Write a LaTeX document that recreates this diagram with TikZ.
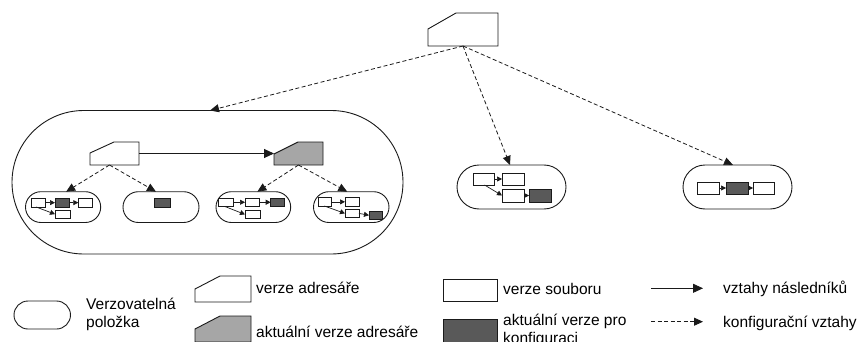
\documentclass[tikz,border=0pt]{standalone}
\usepackage{fontspec}
\setmainfont{Liberation Sans}
\usetikzlibrary{arrows.meta,shapes.misc,calc}

\definecolor{dirgrey}{HTML}{A6A6A6}
\definecolor{curdark}{HTML}{595959}
\definecolor{edge}{HTML}{1A1A1A}

\tikzset{
  file/.style={draw=edge, fill=white, rectangle, inner sep=0pt, outer sep=0pt, line width=0.8pt},
  curfile/.style={file, fill=curdark},
  item/.style={draw=edge, rounded rectangle, inner sep=0pt, outer sep=0pt, line width=0.9pt},
  dirnode/.style={rectangle, inner sep=0pt, outer sep=0pt},
  dirline/.style={draw=edge, line width=0.9pt, line join=miter},
  cfg/.style={draw=edge, dash pattern=on 4pt off 2.5pt, line width=0.8pt, -{Triangle[length=9pt,width=8pt]}},
  succ/.style={draw=edge, line width=0.9pt, -{Triangle[length=10pt,width=9pt]}},
  mini/.style={draw=edge, line width=0.7pt, -{Triangle[length=5pt,width=5pt]}},
  lbl/.style={font=\fontsize{15.5}{18}\selectfont, inner sep=0pt, anchor=base west, align=left},
}

% node given by its corners (x1,y1) -- (x2,y2), y grows downwards
\newcommand\boxat[6]{%
  \node[#2, minimum width={(#5)-(#3)}, minimum height={(#6)-(#4)}]
    (#1) at ({((#3)+(#5))/2},{((#4)+(#6))/2}) {};}
% directory version: box with a chamfered top-left corner
% #7 = x where the top edge starts, #8 = y where the left edge starts
\newcommand\dirat[8]{%
  \boxat{#1}{dirnode}{#3}{#4}{#5}{#6}
  \draw[dirline, fill=#2] (#1.south west)
    -- ($(#1.north west)+(0,{(#8)-(#4)})$)
    -- ($(#1.north west)+({(#7)-(#3)},0)$)
    -- (#1.north east) -- (#1.south east) -- cycle;}

\begin{document}
\begin{tikzpicture}[x=1pt, y=-1pt]
\useasboundingbox (0,0) rectangle (861,342);

% root directory version
\dirat{T}{white}{428}{13}{498}{46}{456}{29}

% versionable item holding the directory and its configurations
\boxat{B}{item}{12}{110.5}{403}{254}
\dirat{D1}{white}{90}{142}{139}{165}{114}{153}
\dirat{D2}{dirgrey}{274}{142}{323}{165}{298}{154}
\draw[succ] (D1.east) -- (D2.west);

% nested items
\boxat{E1}{item}{25.5}{191.7}{100.7}{222.5}
\boxat{E2}{item}{123}{191.7}{199}{222.5}
\boxat{E3}{item}{216}{191.7}{290.7}{222.5}
\boxat{E4}{item}{313.5}{191.7}{389}{222.5}

\boxat{E1a}{file}{31}{198.3}{45.7}{207}
\boxat{E1b}{curfile}{55}{198.3}{69.3}{207}
\boxat{E1c}{file}{78.3}{198.3}{92.7}{207}
\boxat{E1d}{file}{55}{210}{70}{218.3}
\draw[mini] (E1a.east) -- (E1b.west);
\draw[mini] (E1b.east) -- (E1c.west);
\draw[mini] ($(E1a.south west)!0.35!(E1a.south east)$) -- (E1d.west);

\boxat{E2a}{curfile}{154.3}{198.3}{170.3}{207.7}

\boxat{E3a}{file}{218.3}{198}{233}{206.5}
\boxat{E3b}{file}{245}{198}{259.3}{206.5}
\boxat{E3c}{curfile}{270.7}{198}{284.3}{206.5}
\boxat{E3d}{file}{245}{210.3}{260}{218.5}
\draw[mini] (E3a.east) -- (E3b.west);
\draw[mini] (E3b.east) -- (E3c.west);
\draw[mini] ($(E3a.south west)!0.45!(E3a.south east)$) -- (E3d.west);

\boxat{E4a}{file}{318.3}{197.7}{331.7}{206}
\boxat{E4b}{file}{345}{197.7}{359}{206}
\boxat{E4c}{file}{345}{209.3}{359}{217.5}
\boxat{E4d}{curfile}{369}{211}{382.3}{219.5}
\draw[mini] (E4a.east) -- (E4b.west);
\draw[mini] ($(E4a.south west)!0.45!(E4a.south east)$) -- (E4c.west);
\draw[mini] (E4c.east) -- (E4d.west);

\draw[cfg] ([xshift=-5pt]D1.south) -- ([xshift=3pt]E1.north);
\draw[cfg] ([xshift=-5pt]D1.south) -- ([xshift=-5pt]E2.north);
\draw[cfg] (D2.south) -- ([xshift=4pt]E3.north);
\draw[cfg] (D2.south) -- ([xshift=-4pt]E4.north);

% middle item
\boxat{M}{item}{457}{165}{566}{209}
\boxat{Ma}{file}{473}{173}{494}{185}
\boxat{Mb}{file}{502}{173}{524}{185}
\boxat{Mc}{file}{502}{189}{524}{202}
\boxat{Md}{curfile}{529}{189}{551}{202}
\draw[mini] (Ma.east) -- (Mb.west);
\draw[mini] ($(Ma.south west)!0.55!(Ma.south east)$) -- (Mc.west);
\draw[mini] (Mc.east) -- (Md.west);

% right item
\boxat{R}{item}{683}{165}{792}{209}
\boxat{Ra}{file}{697}{182}{719}{194}
\boxat{Rb}{curfile}{726}{182}{748}{194}
\boxat{Rc}{file}{753}{182}{774}{194}
\draw[mini] (Ra.east) -- (Rb.west);
\draw[mini] (Rb.east) -- (Rc.west);

% configuration relations of the root
\draw[cfg] (T.south) -- ([xshift=2.5pt]B.north);
\draw[cfg] (T.south) -- ([xshift=-1.5pt]M.north);
\draw[cfg] (T.south) -- ([xshift=-4.5pt]R.north);

% legend (the base of a two-line label is its last line)
\boxat{Li}{item}{14}{301}{70.5}{329}
\node[lbl] (tLi) at (86,327) {Verzovatelná\\položka};

\dirat{Ld1}{white}{195}{276}{251}{302}{220}{289}
\node[lbl] (tLd1) at (256,293.5) {verze adresáře};
\dirat{Ld2}{dirgrey}{195}{316}{251}{342}{220}{329}
\node[lbl] (tLd2) at (256,337) {aktuální verze adresáře};

\boxat{Lf1}{file}{443}{279.3}{497}{301.7}
\node[lbl] (tLf1) at (503,294) {verze souboru};
\boxat{Lf2}{curfile}{443}{319.3}{497}{342}
\node[lbl] (tLf2) at (503,343) {aktuální verze pro\\konfiguraci};

\coordinate (ls1) at (651,288.3);
\coordinate (ls2) at (703,288.3);
\draw[succ] (ls1) -- (ls2);
\node[lbl] (tls) at (723,293.5) {vztahy následníků};
\coordinate (lc1) at (651,321.7);
\coordinate (lc2) at (703,321.7);
\draw[cfg] (lc1) -- (lc2);
\node[lbl] (tlc) at (723,327) {konfigurační vztahy};
\end{tikzpicture}
\end{document}
